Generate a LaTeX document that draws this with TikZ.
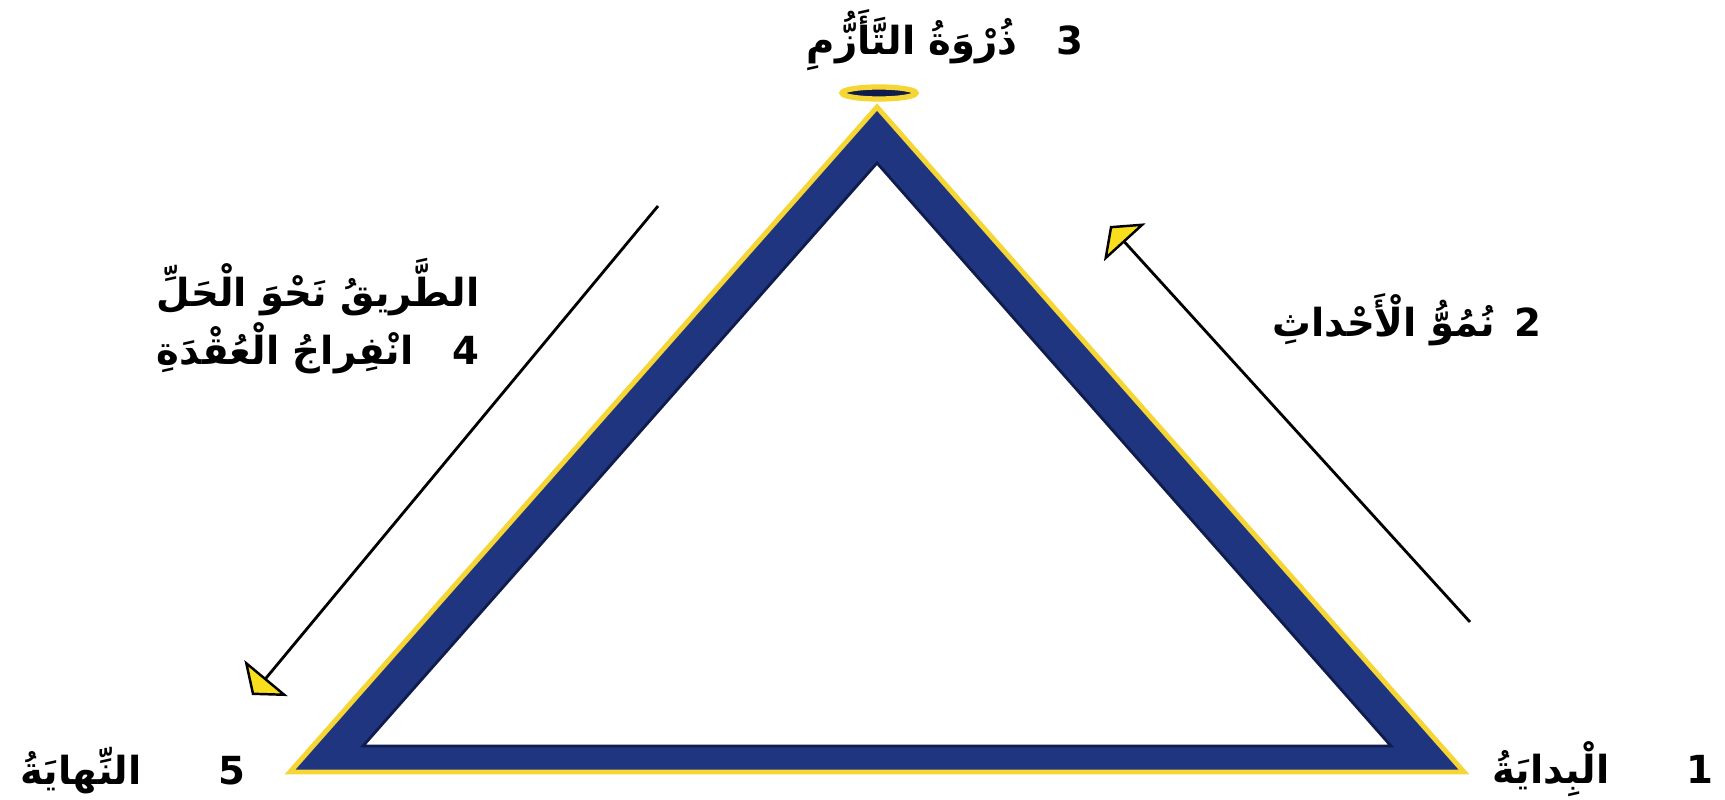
\documentclass[tikz,border=0pt]{standalone}
\usepackage{fontspec}
\usetikzlibrary{arrows.meta, positioning}
\TeXXeTstate=1
\newfontfamily\arabicfont[Script=Arabic]{DejaVu Sans}
\definecolor{bandblue}{RGB}{31,53,128}
\definecolor{banddark}{RGB}{16,28,78}
\definecolor{edgeyellow}{RGB}{246,214,52}
\definecolor{tipyellow}{RGB}{248,222,28}

\begin{document}
\begin{tikzpicture}[
      lbl/.style = {font=\arabicfont\bfseries\fontsize{11}{13}\selectfont,
                    inner sep=0pt},
      arr/.style = {-{Triangle[width=0.56cm, length=0.22cm,
                    fill=tipyellow, line width=0.7pt]}, line width=0.8pt}
    ]
    \useasboundingbox (0,0) rectangle (17.25,7.99);

    % corners of the triangle
    \coordinate (apex) at (8.77,6.92);
    \coordinate (bl)   at (2.90,0.27);
    \coordinate (br)   at (14.64,0.27);
    \coordinate (iapex) at (8.77,6.36);
    \coordinate (ibl)   at (3.63,0.53);
    \coordinate (ibr)   at (13.91,0.53);

    \fill[bandblue] (apex) -- (bl) -- (br) -- cycle;
    \draw[edgeyellow, line width=1.4pt, line join=miter] (apex) -- (bl) -- (br) -- cycle;
    \filldraw[fill=white, draw=banddark, line width=0.8pt] (iapex) -- (ibl) -- (ibr) -- cycle;
    \filldraw[fill=banddark, draw=edgeyellow, line width=1.5pt]
      (8.79,7.06) ellipse [x radius=0.37, y radius=0.06];

    % labels
    \node[lbl] (peak)  at (9.45,7.59)  {\beginR 3\quad ذُرْوَةُ التَّأَزُّمِ\endR};
    \node[lbl] (rise)  at (14.07,4.79) {\beginR 2\enspace نُمُوُّ الْأَحْداثِ\endR};
    \node[lbl, anchor=east] (road) at (4.80,5.12) {\beginR الطَّريقُ نَحْوَ الْحَلِّ\endR};
    \node[lbl, anchor=east] (fall) at (4.80,4.51) {\beginR 4\quad انْفِراجُ الْعُقْدَةِ\endR};
    \node[lbl] (ending) at (1.33,0.28) {\beginR 5\qquad النِّهايَةُ\endR};
    \node[lbl] (start)  at (16.03,0.30) {\beginR 1\qquad الْبِدايَةُ\endR};

    % direction arrows
    \coordinate (riseA) at (14.70,1.77);
    \coordinate (riseB) at (11.10,5.73);
    \coordinate (fallA) at (6.58,5.93);
    \coordinate (fallB) at (2.52,1.04);
    \draw[arr] (riseA) -- (riseB);
    \draw[arr] (fallA) -- (fallB);
  \end{tikzpicture}
\end{document}
